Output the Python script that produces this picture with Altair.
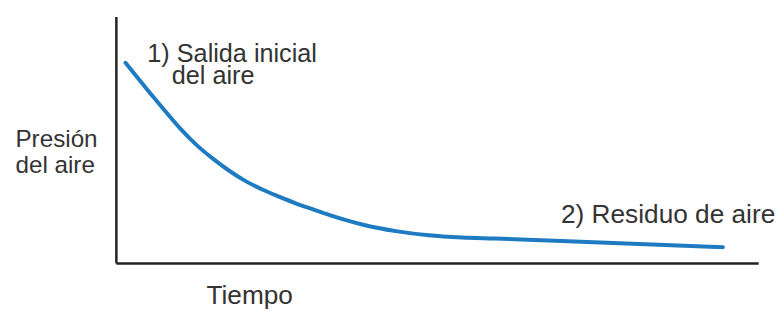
import altair as alt
import pandas as pd

# Curve (time vs. air pressure), arbitrary units 0-100
tiempo = [1.5, 4.8, 7.4, 10.0, 12.5, 15.1, 17.7, 20.2, 22.8, 25.4, 27.9, 30.5,
          33.3, 38.5, 43.6, 48.7, 53.9, 59.0, 74.4, 94.5]
presion = [81.2, 70.6, 62.5, 54.6, 48.0, 42.3, 37.3, 33.2, 29.8, 26.9, 24.3, 21.9,
           19.4, 15.5, 12.9, 11.2, 10.3, 9.9, 8.4, 6.4]

# Annotations
ann_text = ["1) Salida inicial", "del aire", "2) Residuo de aire"]
ann_x = [4.9, 8.7, 69.3]
ann_y = [81.5, 72.7, 16.3]

curve = pd.DataFrame({"t": tiempo, "p": presion})
ann = pd.DataFrame({"label": ann_text, "x": ann_x, "y": ann_y})

FONT = "Liberation Sans"
TXT = "#333333"

xs = alt.Scale(domain=[0, 100], nice=False, zero=False)
ys = alt.Scale(domain=[0, 100], nice=False, zero=False)

line = alt.Chart(curve).mark_line(
    color="#1f7bc1", strokeWidth=4, interpolate="monotone", strokeCap="round"
).encode(
    x=alt.X("t:Q", scale=xs, axis=alt.Axis(
        title="Tiempo", domain=True, domainColor="#222222", domainWidth=2.5,
        ticks=False, labels=False, grid=False,
        titleFont=FONT, titleFontSize=26.5, titleFontWeight="normal", titleColor=TXT,
        titleAlign="left", titleBaseline="alphabetic", titleX=91, titleY=41)),
    y=alt.Y("p:Q", scale=ys, axis=alt.Axis(
        title=["Presión", "del aire"], domain=True, domainColor="#222222", domainWidth=2.5,
        ticks=False, labels=False, grid=False,
        titleFont=FONT, titleFontSize=24.5, titleFontWeight="normal", titleColor=TXT,
        titleAngle=0, titleAlign="left", titleBaseline="alphabetic",
        titleX=-102, titleY=131, titleLineHeight=27)),
)

text1 = alt.Chart(ann).transform_filter(
    alt.datum.x < 50
).mark_text(
    align="left", baseline="alphabetic", font=FONT, fontSize=25.5, color=TXT
).encode(
    x=alt.X("x:Q", scale=xs),
    y=alt.Y("y:Q", scale=ys),
    text="label:N",
)

text2 = alt.Chart(ann).transform_filter(
    alt.datum.x >= 50
).mark_text(
    align="left", baseline="alphabetic", font=FONT, fontSize=26.5, color=TXT
).encode(
    x=alt.X("x:Q", scale=xs),
    y=alt.Y("y:Q", scale=ys),
    text="label:N",
)

chart = alt.layer(line, text1, text2).properties(
    width=649, height=249,
    autosize=alt.AutoSizeParams(type="none"),
    padding={"left": 109, "top": 7, "right": 18, "bottom": 46},
    view=alt.ViewBackground(strokeWidth=0, stroke="transparent"),
).configure_view(strokeWidth=0, stroke="transparent").configure(background="white")

chart.save("out.html", embed_options={"renderer": "svg", "actions": False})
